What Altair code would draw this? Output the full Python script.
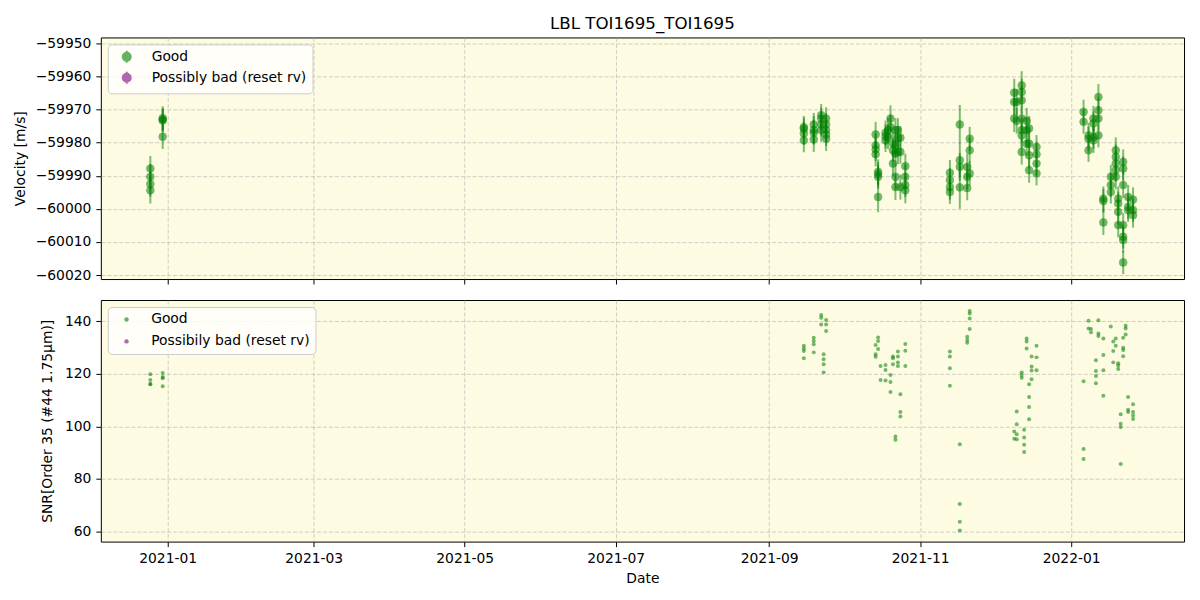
import altair as alt
import pandas as pd

# ---------------- data ----------------
rv_nights = [
    "2020-12-25", "2020-12-30",
    "2021-09-15", "2021-09-19", "2021-09-22", "2021-09-24",
    "2021-10-14", "2021-10-15", "2021-10-18", "2021-10-19", "2021-10-20",
    "2021-10-21", "2021-10-22", "2021-10-23", "2021-10-24", "2021-10-26",
    "2021-11-13", "2021-11-17", "2021-11-20", "2021-11-21",
    "2021-12-09", "2021-12-10", "2021-12-12", "2021-12-14", "2021-12-15", "2021-12-18",
    "2022-01-06", "2022-01-08", "2022-01-10", "2022-01-12", "2022-01-14",
    "2022-01-17", "2022-01-19", "2022-01-20", "2022-01-22", "2022-01-24", "2022-01-26",
]
rv_values = [
    [-59987.8, -59990.3, -59992.5, -59994.4],
    [-59972.6, -59973.0, -59973.3, -59978.2],
    [-59975.3, -59977.2, -59979.3, -59975.8],
    [-59974.5, -59976.2, -59979.0, -59977.0],
    [-59971.7, -59974.5, -59976.2, -59972.7],
    [-59972.7, -59976.2, -59977.5, -59978.8, -59974.5],
    [-59977.5, -59980.8, -59983.5, -59982.0],
    [-59988.8, -59990.3, -59996.4, -59989.5],
    [-59978.1, -59979.3, -59977.0],
    [-59976.3, -59978.3],
    [-59972.7, -59975.3],
    [-59980.3, -59982.3, -59986.3],
    [-59976.2, -59980.8, -59983.3, -59990.3, -59993.4],
    [-59976.2, -59978.5, -59982.8],
    [-59978.5, -59982.8, -59993.4],
    [-59987.1, -59990.3, -59992.8, -59994.4],
    [-59989.1, -59991.3, -59993.4, -59994.9],
    [-59974.5, -59985.3, -59987.3, -59993.5],
    [-59987.3, -59990.3, -59993.7],
    [-59978.8, -59982.3, -59989.3],
    [-59964.9, -59967.7, -59972.7],
    [-59967.7, -59973.4],
    [-59962.7, -59964.7, -59967.2, -59972.7, -59976.2, -59977.8, -59982.8],
    [-59973.4, -59976.2, -59980.3],
    [-59975.7, -59980.3, -59983.8, -59988.3],
    [-59981.3, -59983.5, -59986.3, -59989.3],
    [-59970.7, -59973.7],
    [-59977.8, -59978.8, -59982.3],
    [-59972.7, -59974.2, -59978.3, -59979.3],
    [-59966.2, -59970.2, -59972.7, -59977.8],
    [-59996.9, -59997.6, -60004.1],
    [-59990.3, -59992.8, -59994.9],
    [-59982.3, -59984.3, -59986.3, -59988.3, -59990.3],
    [-59996.9, -59998.4, -60000.9, -60004.9],
    [-59985.8, -59987.8, -59992.8, -60004.9, -60008.4, -60009.4, -60016.2],
    [-59996.4, -59999.4, -60000.4],
    [-59997.2, -60000.4, -60001.9],
]
rv_errors = [
    [3.8, 3.9, 3.8, 4.0],
    [3.6, 3.4, 3.5, 3.7],
    [3.4, 3.5, 3.6, 3.3],
    [3.5, 4.2, 3.8, 3.6],
    [3.4, 3.6, 3.5, 3.3],
    [3.4, 3.6, 3.5, 3.7, 3.5],
    [3.8, 3.6, 3.7, 3.5],
    [3.8, 3.6, 4.6, 3.7],
    [3.6, 3.5, 3.7],
    [3.8, 3.6],
    [4.0, 3.6],
    [3.7, 3.6, 3.8],
    [3.6, 3.7, 3.6, 3.8, 3.9],
    [3.6, 3.5, 3.7],
    [3.5, 3.6, 3.8],
    [3.8, 3.7, 3.6, 3.9],
    [3.9, 3.7, 3.8, 3.6],
    [5.9, 5.0, 4.2, 6.5],
    [3.9, 3.8, 3.7],
    [3.6, 3.8, 3.7],
    [4.2, 4.0, 4.1],
    [4.0, 3.9],
    [4.3, 4.0, 4.1, 3.9, 3.8, 3.9, 3.8],
    [3.9, 3.8, 3.7],
    [3.8, 3.7, 3.9, 3.8],
    [3.6, 3.8, 3.7, 3.6],
    [3.7, 3.6],
    [3.8, 3.6, 3.5],
    [3.8, 3.7, 3.6, 3.8],
    [3.9, 3.8, 3.7, 3.6],
    [3.7, 3.6, 3.8],
    [3.6, 3.7, 3.5],
    [3.9, 3.8, 3.7, 3.6, 3.8],
    [3.7, 3.6, 3.8, 3.7],
    [3.8, 3.6, 3.9, 3.7, 3.6, 3.8, 3.5],
    [3.6, 3.7, 3.5],
    [3.7, 3.6, 3.8],
]

snr_nights = [
    "2020-12-25", "2020-12-30",
    "2021-09-15", "2021-09-19", "2021-09-22", "2021-09-23", "2021-09-24",
    "2021-10-14", "2021-10-15", "2021-10-16", "2021-10-18", "2021-10-20",
    "2021-10-21", "2021-10-22", "2021-10-23", "2021-10-24", "2021-10-26",
    "2021-11-13", "2021-11-17", "2021-11-20", "2021-11-21",
    "2021-12-09", "2021-12-10", "2021-12-12", "2021-12-13", "2021-12-14",
    "2021-12-15", "2021-12-16", "2021-12-18",
    "2022-01-06", "2022-01-08", "2022-01-09", "2022-01-11", "2022-01-12",
    "2022-01-14", "2022-01-17", "2022-01-18", "2022-01-19", "2022-01-20",
    "2022-01-21", "2022-01-22", "2022-01-23", "2022-01-24", "2022-01-26",
]
snr_values = [
    [119.8, 117.6, 116.1, 116.0],
    [120.3, 118.7, 118.3, 115.2],
    [130.6, 129.6, 128.6, 125.9],
    [133.7, 132.4, 131.2, 128.1],
    [142.3, 141.3, 138.7],
    [127.4, 125.5, 123.6, 120.5],
    [140.4, 138.7, 136.2],
    [130.9, 127.4, 126.4],
    [133.8, 132.4, 129.4],
    [122.9, 117.6],
    [123.3, 121.4, 117.4],
    [119.5, 116.8, 113.0],
    [126.5, 125.9, 123.6],
    [96.1, 94.9],
    [128.4, 126.5, 124.3, 122.9],
    [112.2, 105.4, 103.7],
    [131.3, 128.7, 122.9],
    [128.4, 126.5, 122.1, 115.4],
    [93.2, 70.5, 63.7, 60.4],
    [134.0, 132.8, 131.8],
    [143.8, 142.9, 141.0, 137.0],
    [98.0, 95.3],
    [105.6, 100.8, 97.0, 95.1],
    [120.5, 119.5, 118.5],
    [98.7, 95.8, 93.0, 90.2],
    [133.4, 132.2, 129.6],
    [116.0, 111.1, 107.3, 102.7],
    [126.5, 122.7, 121.2, 117.9],
    [130.6, 126.2, 121.3],
    [117.1, 91.4, 87.6],
    [140.1, 137.2],
    [137.0, 135.7],
    [125.1, 121.0, 119.1, 116.4],
    [140.3, 135.3, 134.3],
    [133.4, 127.1, 121.3, 111.6],
    [137.9],
    [132.2, 128.6, 124.3],
    [133.4, 130.6],
    [124.0, 123.1, 121.8],
    [104.6, 101.0, 99.7, 85.7],
    [133.7, 129.9, 129.0, 126.6],
    [138.2, 137.2, 134.9],
    [111.1, 106.3, 105.4],
    [108.4, 105.4, 104.1, 102.8],
]

top_labels = ["Good", "Possibly bad (reset rv)"]
bottom_labels = ["Good", "Possibily bad (reset rv)"]
vel_ticks = [-59950, -59960, -59970, -59980, -59990, -60000, -60010, -60020]
snr_ticks = [60, 80, 100, 120, 140]
tick_months = [(2021, 1), (2021, 3), (2021, 5), (2021, 7), (2021, 9), (2021, 11), (2022, 1)]

# ---------------- tables ----------------
rv_rows = []
for d, vals, errs in zip(rv_nights, rv_values, rv_errors):
    for v, e in zip(vals, errs):
        rv_rows.append({"date": d, "rv": v, "lo": v - e, "hi": v + e, "flag": "Good"})
rv_df = pd.DataFrame(rv_rows)

snr_rows = []
for d, vals in zip(snr_nights, snr_values):
    for v in vals:
        snr_rows.append({"date": d, "snr": v, "flag": "Good"})
snr_df = pd.DataFrame(snr_rows)

# ---------------- styling ----------------
FONT = "DejaVu Sans"
GREEN = "#008000"
PURPLE = "#800080"
FS = 13.9

x_values = [alt.DateTime(year=y, month=m, date=1, utc=True) for y, m in tick_months]
x_scale = alt.Scale(
    type="utc",
    domain=[alt.DateTime(year=2020, month=12, date=5, utc=True),
            alt.DateTime(year=2022, month=2, date=15, hours=14, utc=True)],
)

x_top = alt.X("date:T", scale=x_scale,
              axis=alt.Axis(values=x_values, labels=False, title=None, ticks=True))
x_bottom = alt.X("date:T", scale=x_scale,
                 axis=alt.Axis(values=x_values, format="%Y-%m", title="Date",
                               titlePadding=6))

vel_axis = alt.Axis(values=vel_ticks, format="d", title="Velocity [m/s]",
                    titleX=-80, titleY=121, titleAngle=270, titleAlign="center",
                    titleBaseline="middle")
vel_scale = alt.Scale(domain=[-60021.2, -59948.2], nice=False, zero=False)

snr_axis = alt.Axis(values=snr_ticks, format="d", title="SNR[Order 35 (#44 1.75μm)]",
                    titleX=-53, titleY=121, titleAngle=270, titleAlign="center",
                    titleBaseline="middle")
snr_scale = alt.Scale(domain=[56.2, 148], nice=False, zero=False)

top_color = alt.Scale(domain=top_labels, range=[GREEN, PURPLE])
bottom_color = alt.Scale(domain=bottom_labels, range=[GREEN, PURPLE])

errbar_symbol = "M-1,0A1,1 0 1,0 1,0A1,1 0 1,0 -1,0ZM0,-1.5L0,1.5"

top_legend = alt.Legend(
    title=None, orient="none", legendX=7, legendY=7,
    fillColor="rgba(255,255,255,0.8)", strokeColor="#cccccc", cornerRadius=4,
    padding=5.5, rowPadding=0, symbolType=errbar_symbol, symbolSize=64,
    symbolStrokeWidth=2, symbolOpacity=0.6, symbolOffset=6.5, labelOffset=18,
    labelFont=FONT, labelFontSize=FS, labelColor="black",
)
bottom_legend = alt.Legend(
    title=None, orient="none", legendX=7, legendY=7,
    fillColor="rgba(255,255,255,0.8)", strokeColor="#cccccc", cornerRadius=4,
    padding=5.5, rowPadding=7, symbolType="circle", symbolSize=20,
    symbolStrokeWidth=0, symbolOpacity=0.6, symbolOffset=6.25, labelOffset=17.75,
    labelFont=FONT, labelFontSize=FS, labelColor="black",
)

# ---------------- top panel ----------------
errbars = alt.Chart(rv_df).mark_rule(color=GREEN, opacity=0.5, strokeWidth=2).encode(
    x=x_top,
    y=alt.Y("lo:Q", scale=vel_scale, axis=vel_axis),
    y2="hi:Q",
)
rv_pts = alt.Chart(rv_df).mark_point(filled=True, size=60, opacity=0.55, strokeWidth=0.8).encode(
    x=x_top,
    y=alt.Y("rv:Q", scale=vel_scale, axis=vel_axis),
    fill=alt.Fill("flag:N", scale=top_color, legend=top_legend),
    stroke=alt.Stroke("flag:N", scale=top_color, legend=top_legend),
)
top = alt.layer(errbars, rv_pts).properties(width=1085, height=242)

# ---------------- bottom panel ----------------
bottom = alt.Chart(snr_df).mark_circle(size=16, opacity=0.55).encode(
    x=x_bottom,
    y=alt.Y("snr:Q", scale=snr_scale, axis=snr_axis),
    color=alt.Color("flag:N", scale=bottom_color, legend=bottom_legend),
).properties(width=1085, height=242)

chart = alt.vconcat(top, bottom, spacing=14).resolve_scale(
    fill="independent", stroke="independent", color="independent", y="independent"
).resolve_legend(color="independent", fill="independent", stroke="independent").properties(
    padding={"left": 13, "top": 15, "right": 15, "bottom": 14},
    background="white",
    title=alt.TitleParams("LBL TOI1695_TOI1695", anchor="middle", offset=-14,
                          baseline="bottom", frame="group", font=FONT,
                          fontSize=16.7, fontWeight="normal", color="black"),
).configure_view(
    stroke="black", strokeWidth=1, fill="#fdfbe2"
).configure_axis(
    labelFont=FONT, labelFontSize=FS, labelColor="black",
    titleFont=FONT, titleFontSize=FS, titleColor="black", titleFontWeight="normal",
    tickColor="black", tickSize=5, tickWidth=1, labelPadding=5,
    domain=False, grid=True, gridColor="#b0b0b0", gridOpacity=0.6,
    gridDash=[4, 2], gridWidth=1,
)

chart.save("out.html", embed_options={"renderer": "svg", "actions": False})
